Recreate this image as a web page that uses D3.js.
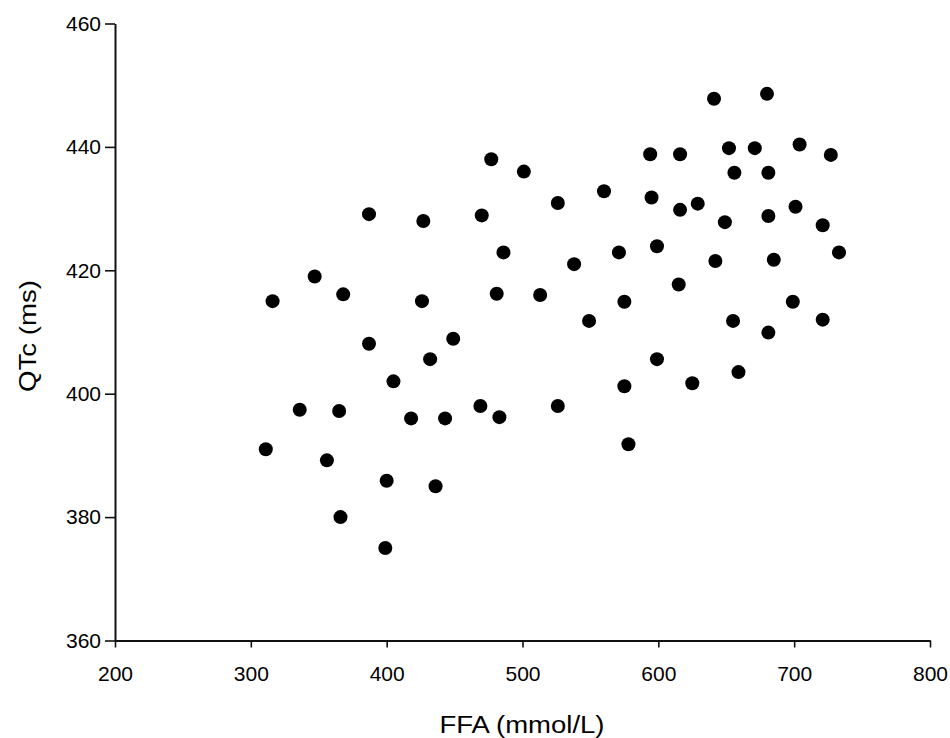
<!DOCTYPE html>
<html>
<head>
<meta charset="utf-8">
<script src="https://cdn.jsdelivr.net/npm/d3@7"></script>
<style>
  body { margin: 0; background: #fff; }
  svg { display: block; font-family: "Liberation Sans", Arial, sans-serif; }
</style>
</head>
<body>
<div id="chart"></div>
<script>
// FFA (mmol/L) and QTc (ms)
const ffa = [
    477, 501, 560, 526, 387, 427, 470, 486, 538, 571,
    347, 368, 426, 481, 513, 575, 549, 316, 336, 311,
    356, 387, 449, 432, 405, 365, 418, 443, 469, 483,
    526, 575, 578, 400, 436, 366, 399, 641, 680, 594,
    616, 652, 671, 704, 727, 656, 681, 595, 616, 629,
    649, 681, 701, 721, 599, 642, 685, 733, 615, 699,
    655, 721, 681, 599, 659, 625
];
const qtc = [
    438, 436, 432.8, 430.9, 429.1, 428, 428.9, 422.9, 421, 422.9,
    419, 416.1, 415, 416.2, 416, 414.9, 411.8, 415, 397.4, 391,
    389.2, 408.1, 408.9, 405.6, 402, 397.2, 396, 396, 398, 396.2,
    398, 401.2, 391.8, 385.9, 385, 380, 375, 447.8, 448.6, 438.8,
    438.8, 439.8, 439.8, 440.4, 438.7, 435.8, 435.8, 431.8, 429.8, 430.8,
    427.8, 428.8, 430.3, 427.3, 423.9, 421.5, 421.7, 422.9, 417.7, 414.9,
    411.8, 412, 409.9, 405.6, 403.5, 401.7
];
const xTicks = [200, 300, 400, 500, 600, 700, 800];
const yTicks = [360, 380, 400, 420, 440, 460];

let size = { width: 950, height: 738 };
let data = ffa.map((x, i) => ({ x: x, y: qtc[i] }));

let svg = d3.select('#chart').append('svg')
    .attr('width', size.width)
    .attr('height', size.height);

let xScale = d3.scaleLinear()
    .domain([200, 800])
    .range([115, 930]);

let yScale = d3.scaleLinear()
    .domain([360, 460])
    .range([640.5, 23.5]);

let xAxis = svg.append('g')
    .attr('transform', `translate(0,${yScale(360)})`)
    .call(d3.axisBottom(xScale).tickValues(xTicks).tickSize(7).tickSizeOuter(0).tickPadding(19));

let yAxis = svg.append('g')
    .attr('transform', `translate(${xScale(200)},0)`)
    .call(d3.axisLeft(yScale).tickValues(yTicks).tickSize(10).tickSizeOuter(0).tickPadding(4));

[xAxis, yAxis].forEach(ax => {
    ax.select('.domain').attr('stroke', '#111').attr('stroke-width', 2);
    ax.selectAll('.tick line').attr('stroke', '#111').attr('stroke-width', 1.6);
    ax.selectAll('.tick text')
        .attr('fill', '#000')
        .style('font-size', '21px')
        .style('font-family', '"Liberation Sans", Arial, sans-serif');
});

svg.append('text')
    .attr('x', 522)
    .attr('y', 733)
    .attr('text-anchor', 'middle')
    .attr('textLength', 165)
    .attr('lengthAdjust', 'spacingAndGlyphs')
    .style('font-size', '23px')
    .text('FFA (mmol/L)');

svg.append('text')
    .attr('transform', 'translate(36,336) rotate(-90)')
    .attr('text-anchor', 'middle')
    .attr('textLength', 112)
    .attr('lengthAdjust', 'spacingAndGlyphs')
    .style('font-size', '24px')
    .text('QTc (ms)');

svg.append('g').selectAll('circle')
    .data(data)
    .join('circle')
    .attr('cx', d => xScale(d.x))
    .attr('cy', d => yScale(d.y))
    .attr('r', 7)
    .attr('fill', '#000');
</script>
</body>
</html>
